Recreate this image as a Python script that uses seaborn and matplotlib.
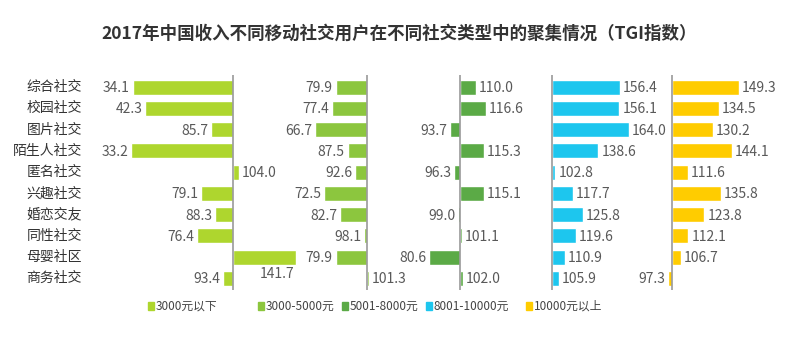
import numpy as np
import pandas as pd
import seaborn as sns
import matplotlib.pyplot as plt
from matplotlib import transforms

categories = ['综合社交', '校园社交', '图片社交', '陌生人社交', '匿名社交',
              '兴趣社交', '婚恋交友', '同性社交', '母婴社区', '商务社交']
groups = ['3000元以下', '3000-5000元', '5001-8000元', '8001-10000元', '10000元以上']
tgi_3000 = [34.1, 42.3, 85.7, 33.2, 104.0, 79.1, 88.3, 76.4, 141.7, 93.4]
tgi_5000 = [79.9, 77.4, 66.7, 87.5, 92.6, 72.5, 82.7, 98.1, 79.9, 101.3]
tgi_8000 = [110.0, 116.6, 93.7, 115.3, 96.3, 115.1, 99.0, 101.1, 80.6, 102.0]
tgi_10000 = [156.4, 156.1, 164.0, 138.6, 102.8, 117.7, 125.8, 119.6, 110.9, 105.9]
tgi_top = [149.3, 134.5, 130.2, 144.1, 111.6, 135.8, 123.8, 112.1, 106.7, 97.3]
colors = ['#AED62E', '#8CC63E', '#5BAA46', '#1DC6EE', '#FFCC00']

series = [tgi_3000, tgi_5000, tgi_8000, tgi_10000, tgi_top]

sns.set_theme(style='white')
plt.rcParams['font.family'] = ['Noto Sans CJK SC', 'DejaVu Sans']

W, H = 800, 354
fig = plt.figure(figsize=(W / 100, H / 100), dpi=100)

# center pixel (value 100) and pixels per TGI unit for each panel
centers = [233, 367, 460, 552, 672]
scales = [1.52, 1.56, 1.58, 1.2, 1.36]
span = 70
top_px, bot_px = 75, 290

axes = []
for i, vals in enumerate(series):
    c, s = centers[i], scales[i]
    ax = fig.add_axes([(c - span * s) / W, 1 - bot_px / H,
                       2 * span * s / W, (bot_px - top_px) / H])
    ax.patch.set_alpha(0)
    df = pd.DataFrame({'cat': categories, 'dev': np.array(vals) - 100})
    sns.barplot(data=df, x='dev', y='cat', orient='h', color=colors[i],
                saturation=1, width=0.7, ax=ax)
    ax.set_xlim(-span, span)
    ax.set_ylim(9.55, -0.57)
    ax.axvline(0, color='#999999', lw=1.2)
    ax.axis('off')
    for j, v in enumerate(vals):
        d = v - 100
        off = 3 / s
        if i == 0 and categories[j] == '母婴社区':
            ax.text(d - 19 / s, j + 0.8, f'{v:.1f}', ha='center', va='center',
                    fontsize=10, color='#595959')
        elif d >= 0:
            ax.text(d + off, j + 0.05, f'{v:.1f}', ha='left', va='center',
                    fontsize=10, color='#595959')
        else:
            ax.text(d - off, j + 0.05, f'{v:.1f}', ha='right', va='center',
                    fontsize=10, color='#595959')
    axes.append(ax)

# category labels
tr = transforms.blended_transform_factory(fig.transFigure, axes[0].transData)
for j, cat in enumerate(categories):
    axes[0].text(82 / W, j, cat, transform=tr, ha='right', va='center',
                 fontsize=10, color='#333333')

# title
fig.text(399 / W, 1 - 34 / H,
         '2017年中国收入不同移动社交用户在不同社交类型中的聚集情况（TGI指数）',
         ha='center', va='center', fontsize=12.6, fontweight='bold', color='#333333')

# legend
leg_x = [148, 258, 342, 426, 526]
for x, g, col in zip(leg_x, groups, colors):
    fig.patches.append(plt.Rectangle((x / W, 1 - 310 / H), 6 / W, 8 / H,
                                     transform=fig.transFigure, color=col))
    fig.text((x + 8) / W, 1 - 306 / H, g, ha='left', va='center',
             fontsize=8.5, color='#444444')

plt.savefig('out.png', dpi=100)
